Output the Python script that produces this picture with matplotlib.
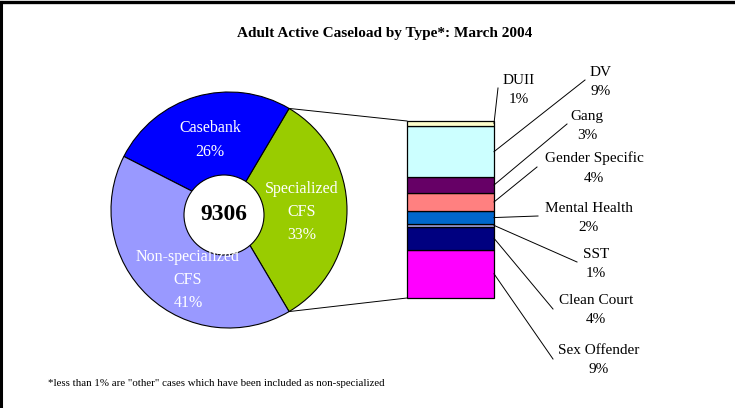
import matplotlib
matplotlib.use("Agg")
import matplotlib.pyplot as plt
from matplotlib.patches import Circle
import numpy as np

plt.rcParams['font.family'] = ['Liberation Serif', 'DejaVu Serif']

# -------------------------------
# Data
# -------------------------------
title = "Adult Active Caseload by Type*: March 2004"
footnote = '*less than 1% are "other" cases which have been included as non-specialized'
total_cases = "9306"

pie_names = ["Specialized\nCFS", "Casebank", "Non-specialized\nCFS"]
pie_pct = [33, 26, 41]
pie_colors = ["#99CC00", "#0000FF", "#9999FF"]

# specialized breakdown, top to bottom
spec_names = ["DUII", "DV", "Gang", "Gender Specific", "Mental Health",
              "SST", "Clean Court", "Sex Offender"]
spec_values = [0.9, 9.6, 2.8, 3.5, 2.3, 0.6, 4.2, 9.0]
spec_labels = ["1%", "9%", "3%", "4%", "2%", "1%", "4%", "9%"]
spec_colors = ["#FFFFCC", "#CCFFFF", "#660066", "#FF8080", "#0066CC",
               "#A0A0E0", "#000080", "#FF00FF"]

# -------------------------------
# Figure in pixel space (y up)
# -------------------------------
W, H = 735, 408
fig = plt.figure(figsize=(W / 100, H / 100), dpi=100)
ax = fig.add_axes([0, 0, 1, 1])
ax.set_xlim(0, W)
ax.set_ylim(0, H)
ax.set_aspect('equal')
ax.axis('off')

# frame (left and top only)
ax.plot([1, 1], [0, H - 1.5], color='black', lw=2.2)
ax.plot([0, 733], [H - 1.5, H - 1.5], color='black', lw=2.4)

ax.text(385, H - 33, title, ha='center', va='center', fontsize=11, fontweight='bold')
ax.text(48, H - 384, footnote, ha='left', va='center', fontsize=7.8)

# -------------------------------
# Pie
# -------------------------------
cx, cy, r = 229, H - 210, 118
start = -pie_pct[0] / 100 * 360 / 2
labels = [n + "\n" + str(p) + "%" for n, p in zip(pie_names, pie_pct)]
wedges, texts = ax.pie(pie_pct, colors=pie_colors, startangle=start, counterclock=True,
                       center=(cx, cy), radius=r, labels=labels, labeldistance=0.63,
                       wedgeprops=dict(edgecolor='black', linewidth=0.8),
                       textprops=dict(color='white', fontsize=11.5, ha='center', va='center',
                                      linespacing=1.6, zorder=7))
ax.set_xlim(0, W)
ax.set_ylim(0, H)
texts[0].set_position((302, H - 212))
texts[1].set_position((210, H - 140))
texts[2].set_position((188, H - 280))

ax.add_patch(Circle((224, H - 215), 40, facecolor='white', edgecolor='black', lw=0.8, zorder=5))
ax.text(224, H - 214, total_cases, ha='center', va='center', fontsize=17,
        fontweight='bold', zorder=6)

# -------------------------------
# Stacked bar for specialized
# -------------------------------
bar_left, bar_right = 407, 494
bar_bottom, bar_top = H - 298, H - 121
scale = (bar_top - bar_bottom) / sum(spec_values)

mids = []
bottom = bar_bottom
for name, v, c in reversed(list(zip(spec_names, spec_values, spec_colors))):
    h = v * scale
    ax.bar(bar_left, h, width=bar_right - bar_left, bottom=bottom, align='edge',
           color=c, edgecolor='black', linewidth=0.9)
    mids.append(bottom + h / 2)
    bottom += h
mids = mids[::-1]

# connector lines pie -> bar
a0 = np.radians(start)
ux, uy = cx + r * np.cos(-a0), cy + r * np.sin(-a0)
lx, ly = cx + r * np.cos(a0), cy + r * np.sin(a0)
ax.plot([ux, bar_left], [uy, bar_top], color='black', lw=0.7)
ax.plot([lx, bar_left], [ly, bar_bottom], color='black', lw=0.7)

# labels with leader lines
text_pos = [(519, 90), (601, 82), (587, 126), (594, 168), (589, 218),
            (596, 264), (596, 310), (599, 360)]
leader_end = [(498, 88), (585, 80), (567, 124), (537, 167), (538, 216),
              (577, 262), (553, 309), (553, 359)]
for i in range(len(spec_names)):
    tx, ty = text_pos[i]
    ex, ey = leader_end[i]
    y0 = mids[i]
    ax.plot([bar_right, ex], [y0, H - ey], color='black', lw=0.7)
    ax.text(tx, H - ty, spec_names[i] + "\n" + spec_labels[i], ha='center', va='center',
            fontsize=11, linespacing=1.65)

fig.savefig("out.png", dpi=100)
